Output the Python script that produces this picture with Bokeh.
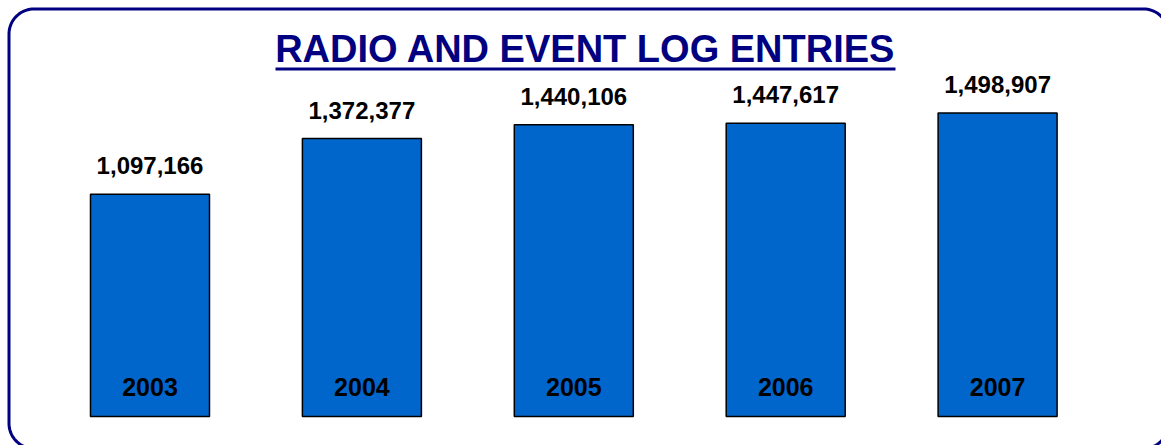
import numpy as np
from bokeh.plotting import figure
from bokeh.models import Range1d, ColumnDataSource, LabelSet, Label
from bokeh.core.properties import value
from bokeh.embed import file_html
from bokeh.resources import INLINE

# ---- data ----
years = ["2003", "2004", "2005", "2006", "2007"]
entries = [1097166, 1372377, 1440106, 1447617, 1498907]
value_labels = ["{:,}".format(v) for v in entries]
title_text = "RADIO AND EVENT LOG ENTRIES"

W, H = 1161, 445
NAVY = "#000080"
BAR = "#0066CC"
FONT = value("Liberation Sans")

xs = list(range(len(years)))
src = ColumnDataSource(dict(x=xs, top=entries, year=years, lab=value_labels))

p = figure(width=W, height=H, output_backend="svg", toolbar_location=None,
           x_range=Range1d(-0.7055, 4.7735),
           y_range=Range1d(-143173, 2053792),
           min_border=0, outline_line_color=None)
p.axis.visible = False
p.grid.visible = False
p.background_fill_color = "white"
p.border_fill_color = "white"

# pixel-space ranges for decorations (y measured from bottom)
p.extra_x_ranges = {"px": Range1d(0, W)}
p.extra_y_ranges = {"px": Range1d(0, H)}

p.vbar(x="x", top="top", bottom=0, width=0.5616, source=src,
       fill_color=BAR, line_color="black", line_width=1.5)

p.add_layout(LabelSet(x="x", y="top", text="lab", source=src, y_offset=20,
                      text_align="center", text_baseline="alphabetic",
                      text_font=FONT, text_font_style="bold",
                      text_font_size="24px", text_color="black"))
p.add_layout(LabelSet(x="x", y=0, text="year", source=src, y_offset=21,
                      text_align="center", text_baseline="alphabetic",
                      text_font=FONT, text_font_style="bold",
                      text_font_size="25px", text_color="black"))

# title + underline
p.add_layout(Label(x=585, y=H - 48, x_range_name="px", y_range_name="px",
                   text=title_text, text_align="center", text_baseline="alphabetic",
                   text_font="Liberation Sans", text_font_style="bold",
                   text_font_size="38px", text_color=NAVY))
p.line(x=[275, 895], y=[H - 68.5, H - 68.5], x_range_name="px", y_range_name="px",
       line_color=NAVY, line_width=3)

# rounded frame
L, T, R, B, r = 8.5, 8.5, 1168, 448, 25
pts_x, pts_y = [], []
def arc(cx, cy, a0, a1):
    t = np.linspace(a0, a1, 20)
    pts_x.extend(cx + r * np.cos(t)); pts_y.extend(H - (cy + r * np.sin(t)))
arc(L + r, T + r, np.pi, 1.5 * np.pi)
arc(R - r, T + r, 1.5 * np.pi, 2 * np.pi)
arc(R - r, B - r, 0, 0.5 * np.pi)
arc(L + r, B - r, 0.5 * np.pi, np.pi)
pts_x.append(pts_x[0]); pts_y.append(pts_y[0])
p.line(x=pts_x, y=pts_y, x_range_name="px", y_range_name="px",
       line_color=NAVY, line_width=3)

open("out.html", "w").write(file_html(p, INLINE))
